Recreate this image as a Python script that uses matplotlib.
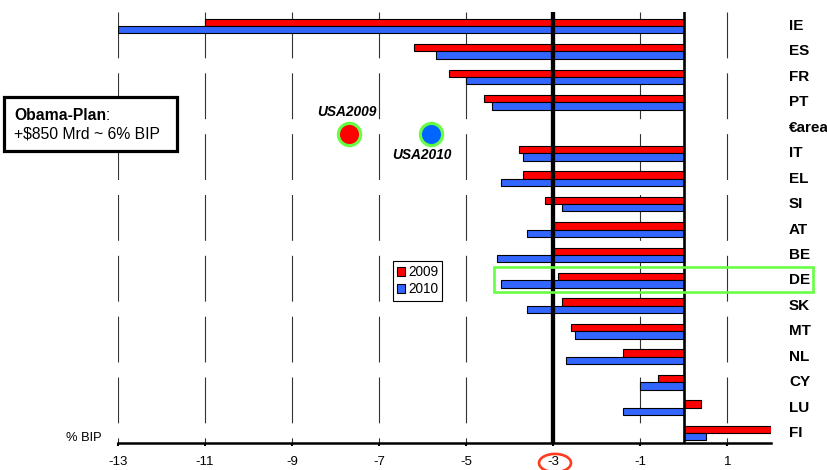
import matplotlib
matplotlib.use("Agg")
import matplotlib.pyplot as plt
import matplotlib.transforms as mtransforms
import numpy as np
from matplotlib.patches import Rectangle, Circle, Patch

plt.rcParams['font.family'] = ['Liberation Sans', 'DejaVu Sans']

# Budget balance in % of GDP (BIP), euro-area members
countries = ["IE", "ES", "FR", "PT", "€area", "IT", "EL", "SI", "AT", "BE",
             "DE", "SK", "MT", "NL", "CY", "LU", "FI"]
balance_2009 = [-11.0, -6.2, -5.4, -4.6, np.nan, -3.8, -3.7, -3.2, -3.0, -3.0,
                -2.9, -2.8, -2.6, -1.4, -0.6, 0.4, 2.0]
balance_2010 = [-13.0, -5.7, -5.0, -4.4, np.nan, -3.7, -4.2, -2.8, -3.6, -4.3,
                -4.2, -3.6, -2.5, -2.7, -1.0, -1.4, 0.5]
usa_labels = ["USA2009", "USA2010"]
usa_values = [-7.7, -5.8]
xticks = [-13, -11, -9, -7, -5, -3, -1, 1]
series_labels = ["2009", "2010"]
threshold = -3

RED = "#ff0000"
BLUE = "#3366ff"
GREEN = "#66ff44"

W, H = 828, 470
fig = plt.figure(figsize=(W / 100, H / 100), dpi=100)

def fx(px):
    return px / W

def fy(py):
    return 1 - py / H

ax = fig.add_axes([fx(118), fy(443), fx(771) - fx(118), fy(12) - fy(443)])
ymin, ymax = -0.55, 16.39
ax.set_xlim(-13, 2)
ax.set_ylim(ymax, ymin)

y = np.arange(len(countries))
h = 0.29
ax.barh(y - h / 2, balance_2009, height=h, color=RED, edgecolor="black",
        linewidth=0.8, zorder=3)
ax.barh(y + h / 2, balance_2010, height=h, color=BLUE, edgecolor="black",
        linewidth=0.8, zorder=3)

# dashed vertical grid, drawn top-down
for xv in xticks:
    ax.plot([xv, xv], [ymin, ymax], color="#333333", linewidth=0.8,
            linestyle=(0, (33 / 0.8, 10.8 / 0.8)), zorder=1)

# deficit limit and zero line
ax.plot([threshold, threshold], [ymin, ymax], color="black", linewidth=3.1, zorder=5)
ax.plot([0, 0], [ymin, ymax], color="black", linewidth=1.9, zorder=5)

# USA reference points
usa_y = 4.25
ax.plot(usa_values[0], usa_y, "o", markersize=16, markerfacecolor=RED,
        markeredgecolor=GREEN, markeredgewidth=2.3, zorder=6)
ax.plot(usa_values[1], usa_y, "o", markersize=16, markerfacecolor="#0066ff",
        markeredgecolor=GREEN, markeredgewidth=2.3, zorder=6)
fig.text(fx(347), fy(112), usa_labels[0], ha="center", va="center",
         fontsize=9.9, fontweight="bold", style="italic")
fig.text(fx(422), fy(155), usa_labels[1], ha="center", va="center",
         fontsize=9.9, fontweight="bold", style="italic")

# axes styling
for s in ["top", "right", "left"]:
    ax.spines[s].set_visible(False)
ax.spines["bottom"].set_linewidth(1.8)
ax.set_yticks([])
ax.set_xticks(xticks)
ax.set_xticklabels([str(t) for t in xticks], fontsize=9.5)
ax.tick_params(axis="x", direction="out", length=2.5, width=1.5, pad=7)

# country labels on the right
lab_tr = mtransforms.blended_transform_factory(fig.transFigure, ax.transData)
for yi, c in zip(y, countries):
    ax.text(fx(789), yi, c, transform=lab_tr, ha="left", va="center",
            fontsize=11, fontweight="bold")

fig.text(fx(102), fy(438), "% BIP", ha="right", va="center", fontsize=9.3)

# legend
handles = [Patch(facecolor=RED, edgecolor="black", linewidth=0.8),
           Patch(facecolor=BLUE, edgecolor="black", linewidth=0.8)]
leg = fig.legend(handles, series_labels, loc="upper left",
                 bbox_to_anchor=(fx(393), fy(261)), fontsize=9.8,
                 handlelength=0.6, handleheight=0.6, handletextpad=0.2,
                 labelspacing=0.25, borderpad=0.3, borderaxespad=0,
                 fancybox=False, framealpha=1, edgecolor="black")
leg.get_frame().set_linewidth(0.8)

# Obama plan box
fig.patches.append(Rectangle((fx(4), fy(151)), fx(173), 54 / H, transform=fig.transFigure,
                             facecolor="white", edgecolor="black", linewidth=2.3, zorder=4))
t1 = fig.text(fx(14), fy(115), "Obama-Plan", ha="left", va="center",
              fontsize=11.3, fontweight="bold", zorder=5)
fig.canvas.draw()
bb = t1.get_window_extent()
fig.text(bb.x1 / W, fy(115), ":", ha="left", va="center", fontsize=11.3, zorder=5)
fig.text(fx(14), fy(134), "+$850 Mrd ~ 6% BIP", ha="left", va="center",
         fontsize=11.3, zorder=5)

# highlight DE row
fig.patches.append(Rectangle((fx(494), fy(292)), fx(813) - fx(494), 25 / H,
                             transform=fig.transFigure, facecolor="none",
                             edgecolor=GREEN, linewidth=1.9, zorder=7))

# circle around the -3 tick label
fig.patches.append(Circle((fx(555), fy(463)), 16 / W, transform=fig.transFigure,
                          facecolor="none", edgecolor="#ff3b1f", linewidth=1.9, zorder=7))

fig.savefig("out.png", dpi=100)
